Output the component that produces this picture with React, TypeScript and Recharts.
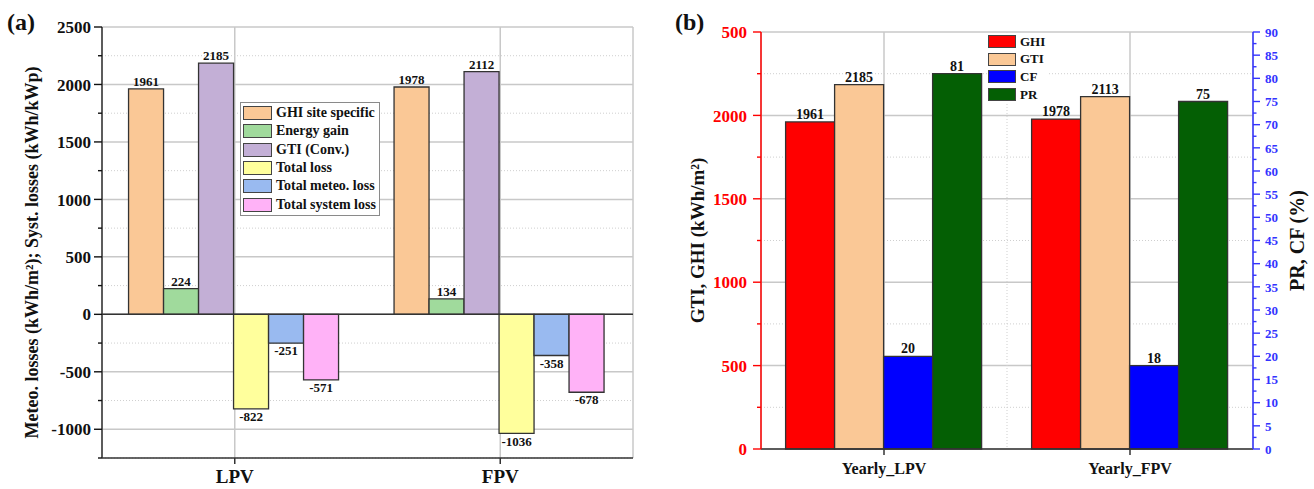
import { BarChart, Bar, XAxis, YAxis, CartesianGrid, LabelList, Legend, ReferenceLine } from 'recharts'

const FONT = '"Liberation Serif", "Times New Roman", Times, serif'

// ---- (a) losses / gains per site ----
const sitesA = ['LPV', 'FPV']
const ghiSiteSpecific = [1961, 1978]
const energyGain = [224, 134]
const gtiConv = [2185, 2112]
const totalLoss = [-822, -1036]
const totalMeteoLoss = [-251, -358]
const totalSystemLoss = [-571, -678]
const yTicksA = [-1250, -1000, -750, -500, -250, 0, 250, 500, 750, 1000, 1250, 1500, 1750, 2000, 2250, 2500]

// ---- (b) yearly irradiation / CF / PR ----
const sitesB = ['Yearly_LPV', 'Yearly_FPV']
const ghiB = [1961, 1978]
const gtiB = [2185, 2113]
const cfB = [20, 18]
const prB = [81, 75]
const leftTicksB = [0, 250, 500, 750, 1000, 1250, 1500, 1750, 2000, 2250, 2500]
const rightTicksB = [
  0, 2.5, 5, 7.5, 10, 12.5, 15, 17.5, 20, 22.5, 25, 27.5, 30, 32.5, 35, 37.5, 40, 42.5, 45,
  47.5, 50, 52.5, 55, 57.5, 60, 62.5, 65, 67.5, 70, 72.5, 75, 77.5, 80, 82.5, 85, 87.5, 90,
]

const seriesA = [
  { key: 'ghiSite', name: 'GHI site specific', color: '#FAC896', values: ghiSiteSpecific },
  { key: 'gain', name: 'Energy gain', color: '#A0DA9C', values: energyGain },
  { key: 'gti', name: 'GTI (Conv.)', color: '#C3AFD6', values: gtiConv },
  { key: 'loss', name: 'Total loss', color: '#FFFF9C', values: totalLoss },
  { key: 'meteo', name: 'Total meteo. loss', color: '#99BAF0', values: totalMeteoLoss },
  { key: 'system', name: 'Total system loss', color: '#FFB2F7', values: totalSystemLoss },
]

const seriesB = [
  { key: 'ghi', name: 'GHI', color: '#FF0000', axis: 'left', values: ghiB },
  { key: 'gti', name: 'GTI', color: '#FAC896', axis: 'left', values: gtiB },
  { key: 'cf', name: 'CF', color: '#0000FF', axis: 'right', values: cfB },
  { key: 'pr', name: 'PR', color: '#045F04', axis: 'right', values: prB },
]

const dataA = sitesA.map((site, i) => {
  const row: Record<string, string | number> = { site }
  seriesA.forEach((s) => (row[s.key] = s.values[i]))
  return row
})

const dataB = sitesB.map((site, i) => {
  const row: Record<string, string | number> = { site }
  seriesB.forEach((s) => (row[s.key] = s.values[i]))
  return row
})

const majorA = yTicksA.filter((v) => v % 500 === 0)
const minorA = yTicksA.filter((v) => v % 500 !== 0)
const majorB = leftTicksB.filter((v) => v % 500 === 0)
const minorB = leftTicksB.filter((v) => v % 500 !== 0)

// y tick with long major / short minor marks, label only on majors
function yTick(o: {
  side: 'left' | 'right'
  step: number
  color: string
  size: number
  tickSize: number
  margin: number
  fmt?: (v: number) => string
}) {
  return (props: any) => {
    const { x, y, payload } = props
    const v = Number(payload.value)
    const major = Math.abs(v % o.step) < 1e-6
    const dir = o.side === 'left' ? -1 : 1
    const axisX = x - dir * (o.tickSize + o.margin)
    const len = major ? o.tickSize : o.tickSize / 2
    return (
      <g>
        <line x1={axisX} x2={axisX + dir * len} y1={y} y2={y} stroke={o.color} strokeWidth={1.4} />
        {major && (
          <text
            x={x}
            y={y}
            dy="0.36em"
            textAnchor={o.side === 'left' ? 'end' : 'start'}
            fill={o.color}
            fontSize={o.size}
            fontWeight="bold"
            fontFamily={FONT}
          >
            {o.fmt ? o.fmt(v) : v}
          </text>
        )}
      </g>
    )
  }
}

function vTitle(text: string, dx: number, dy: number, size: number) {
  return (props: any) => {
    const vb = props.viewBox
    const cx = vb.x + dx
    const cy = vb.y + vb.height / 2 + dy
    return (
      <text
        x={cx}
        y={cy}
        transform={`rotate(-90 ${cx} ${cy})`}
        textAnchor="middle"
        dominantBaseline="central"
        fontSize={size}
        fontWeight="bold"
        fontFamily={FONT}
        fill="#111"
      >
        {text}
      </text>
    )
  }
}

function LegendA() {
  return (
    <div style={{ background: '#fff', border: '1px solid #8a8a8a', padding: '1px 3px 1px 2px', fontFamily: FONT }}>
      {seriesA.map((s) => (
        <div key={s.key} style={{ display: 'flex', alignItems: 'center', height: 18.3 }}>
          <span style={{ width: 27, height: 12, background: s.color, border: '1.5px solid #444', marginRight: 4 }} />
          <span style={{ fontSize: 14, fontWeight: 'bold', color: '#111', whiteSpace: 'nowrap' }}>{s.name}</span>
        </div>
      ))}
    </div>
  )
}

function LegendB() {
  return (
    <div style={{ background: '#fff', padding: '0 4px 0 0', fontFamily: FONT }}>
      {seriesB.map((s) => (
        <div key={s.key} style={{ display: 'flex', alignItems: 'center', height: 17.6 }}>
          <span style={{ width: 26, height: 11, background: s.color, border: '1.5px solid #444', marginRight: 4 }} />
          <span style={{ fontSize: 13, fontWeight: 'bold', color: '#111' }}>{s.name}</span>
        </div>
      ))}
    </div>
  )
}

const valueLabel = { fill: '#111', fontWeight: 'bold', fontFamily: FONT } as const

function ChartA() {
  return (
    <BarChart
      width={660}
      height={489}
      data={dataA}
      margin={{ top: 27, right: 27, bottom: 1, left: 42 }}
      barCategoryGap="10%"
      barGap={0}
    >
      <CartesianGrid horizontalValues={majorA} stroke="#c8c8c8" strokeWidth={1.5} />
      <CartesianGrid horizontalValues={minorA} vertical={false} stroke="#cfcfcf" strokeDasharray="1 2" />
      <XAxis
        dataKey="site"
        interval={0}
        height={30}
        tickSize={6}
        tickMargin={6}
        axisLine={{ stroke: '#333', strokeWidth: 1.5 }}
        tickLine={{ stroke: '#333', strokeWidth: 1.5 }}
        tick={{ fill: '#111', fontSize: 19, fontWeight: 'bold', fontFamily: FONT }}
      />
      <XAxis xAxisId="top" dataKey="site" orientation="top" height={0} tick={false} tickLine={false} axisLine={{ stroke: '#333', strokeWidth: 1.5 }} />
      <YAxis
        type="number"
        domain={[-1250, 2500]}
        ticks={yTicksA}
        interval={0}
        width={60}
        tickSize={8}
        tickMargin={3}
        tickLine={false}
        axisLine={{ stroke: '#333', strokeWidth: 1.5 }}
        tick={yTick({ side: 'left', step: 500, color: '#111', size: 17, tickSize: 8, margin: 3 })}
        label={vTitle('Meteo. losses (kWh/m²); Syst. losses (kWh/kWp)', -10, 10, 18)}
      />
      <YAxis yAxisId="border" orientation="right" type="number" domain={[-1250, 2500]} width={0} tick={false} tickLine={false} axisLine={{ stroke: '#333', strokeWidth: 1.5 }} />
      <ReferenceLine y={0} stroke="#333" strokeWidth={1.5} />
      <Legend
        layout="vertical"
        align="center"
        verticalAlign="middle"
        content={() => <LegendA />}
        wrapperStyle={{ left: 240, top: 102, width: 'auto', height: 'auto' }}
      />
      {seriesA.map((s) => (
        <Bar key={s.key} dataKey={s.key} name={s.name} fill={s.color} stroke="#333" strokeWidth={1.3} isAnimationActive={false}>
          <LabelList dataKey={s.key} position="top" offset={3} fontSize={13} {...valueLabel} />
        </Bar>
      ))}
    </BarChart>
  )
}

function ChartB() {
  return (
    <BarChart
      width={654}
      height={489}
      data={dataB}
      margin={{ top: 32, right: 11, bottom: 10, left: 31 }}
      barCategoryGap="10%"
      barGap={0}
    >
      <CartesianGrid yAxisId="left" horizontalValues={majorB} stroke="#c8c8c8" strokeWidth={1.5} />
      <CartesianGrid yAxisId="left" horizontalValues={minorB} vertical={false} stroke="#cfcfcf" strokeDasharray="1 2" />
      <CartesianGrid
        yAxisId="left"
        horizontal={false}
        verticalCoordinatesGenerator={(p: any) => [p.offset.left + p.offset.width / 2]}
        stroke="#cfcfcf"
        strokeDasharray="1 2"
      />
      <XAxis
        dataKey="site"
        interval={0}
        height={30}
        tickSize={6}
        tickMargin={8}
        axisLine={{ stroke: '#333', strokeWidth: 1.5 }}
        tickLine={{ stroke: '#333', strokeWidth: 1.5 }}
        tick={{ fill: '#111', fontSize: 16, fontWeight: 'bold', fontFamily: FONT }}
      />
      <XAxis xAxisId="top" dataKey="site" orientation="top" height={0} tick={false} tickLine={false} axisLine={{ stroke: '#333', strokeWidth: 1.5 }} />
      <YAxis
        yAxisId="left"
        type="number"
        domain={[0, 2500]}
        ticks={leftTicksB}
        interval={0}
        width={70}
        tickSize={8}
        tickMargin={6}
        tickLine={false}
        axisLine={{ stroke: '#FF0000', strokeWidth: 1.5 }}
        tick={yTick({
          side: 'left',
          step: 500,
          color: '#FF0000',
          size: 17,
          tickSize: 8,
          margin: 6,
          fmt: (v) => (v === 2500 ? '500' : String(v)),
        })}
        label={vTitle('GTI, GHI (kWh/m²)', 6, 0, 19)}
      />
      <YAxis
        yAxisId="right"
        orientation="right"
        type="number"
        domain={[0, 90]}
        ticks={rightTicksB}
        interval={0}
        width={50}
        tickSize={7}
        tickMargin={5}
        tickLine={false}
        axisLine={{ stroke: '#3333FF', strokeWidth: 1.5 }}
        tick={yTick({ side: 'right', step: 5, color: '#3333FF', size: 13, tickSize: 7, margin: 5 })}
        label={vTitle('PR, CF (%)', 44, 0, 20)}
      />
      <Legend
        layout="vertical"
        align="center"
        verticalAlign="middle"
        content={() => <LegendB />}
        wrapperStyle={{ left: 328, top: 33, width: 'auto', height: 'auto' }}
      />
      {seriesB.map((s) => (
        <Bar
          key={s.key}
          yAxisId={s.axis}
          dataKey={s.key}
          name={s.name}
          fill={s.color}
          stroke="#333"
          strokeWidth={1.3}
          isAnimationActive={false}
        >
          <LabelList dataKey={s.key} position="top" offset={3} fontSize={14} {...valueLabel} />
        </Bar>
      ))}
    </BarChart>
  )
}

export default function App() {
  return (
    <div style={{ position: 'absolute', left: 0, top: 0, width: 1314, height: 489, background: '#fff', overflow: 'hidden' }}>
      <div style={{ position: 'absolute', left: 0, top: 0 }}>
        <ChartA />
      </div>
      <div style={{ position: 'absolute', left: 660, top: 0 }}>
        <ChartB />
      </div>
      <svg width={1314} height={489} style={{ position: 'absolute', left: 0, top: 0, pointerEvents: 'none' }}>
        <text x={7} y={30} fontSize={24} fontWeight="bold" fontFamily={FONT} fill="#111">(a)</text>
        <text x={675} y={30} fontSize={24} fontWeight="bold" fontFamily={FONT} fill="#111">(b)</text>
      </svg>
    </div>
  )
}
